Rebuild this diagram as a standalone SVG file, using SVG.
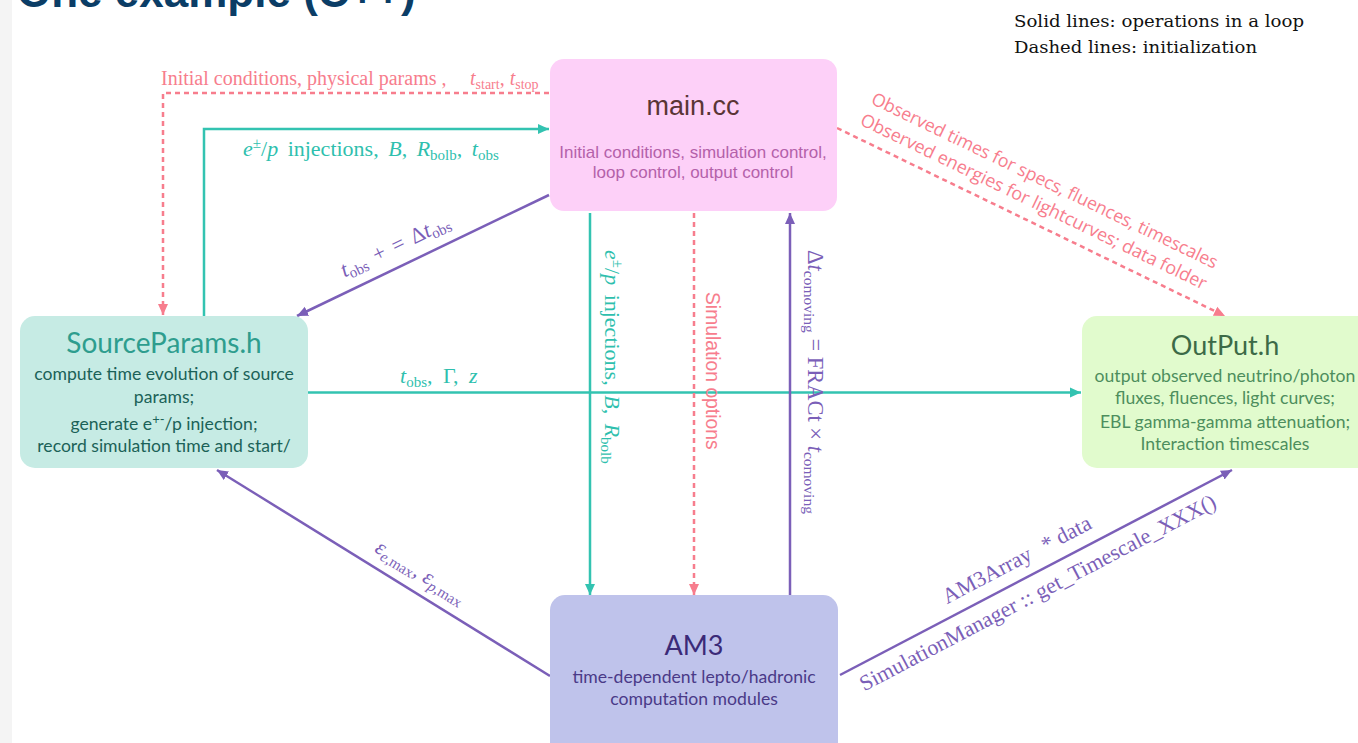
<svg xmlns="http://www.w3.org/2000/svg" width="1358" height="743" viewBox="0 0 1358 743">
<style>
.box{stroke:none}
.sans{font-family:"Liberation Sans",Arial,sans-serif}
.av{font-family:Lato,"Noto Sans",sans-serif}
.serif{font-family:"Liberation Serif","Times New Roman",serif}
.teal{stroke:#33c3b1;stroke-width:2.5;fill:none}
.purple{stroke:#7b5fb8;stroke-width:2.5;fill:none}
.pink{stroke:#f77d8d;stroke-width:2.5;fill:none;stroke-dasharray:5 4}
.tt{fill:#2fbfae}
.pt{fill:#7b5fb8}
.kt{fill:#f77d8d}
</style>
<defs>
<marker id="aT" markerUnits="userSpaceOnUse" markerWidth="12" markerHeight="12" refX="11" refY="6" orient="auto"><path d="M0,1 L11,6 L0,11 z" fill="#33c3b1"/></marker>
<marker id="aP" markerUnits="userSpaceOnUse" markerWidth="12" markerHeight="12" refX="11" refY="6" orient="auto"><path d="M0,1 L11,6 L0,11 z" fill="#7b5fb8"/></marker>
<marker id="aK" markerUnits="userSpaceOnUse" markerWidth="12" markerHeight="12" refX="11" refY="6" orient="auto"><path d="M0,1 L11,6 L0,11 z" fill="#f77d8d"/></marker>
</defs>
<rect x="0" y="0" width="1358" height="743" fill="#ffffff"/>
<rect x="0" y="0" width="12" height="743" fill="#f4f4f4"/>
<text x="17" y="7" class="sans" font-size="44" font-weight="bold" fill="#0b3d66">One example (C++)</text>
<g id="legend" font-family="'DejaVu Serif',serif" font-size="16.5" fill="#111">
<text x="1014" y="27" textLength="290" lengthAdjust="spacingAndGlyphs">Solid lines: operations in a loop</text>
<text x="1014" y="53" textLength="243" lengthAdjust="spacingAndGlyphs">Dashed lines: initialization</text>
</g>
<g id="connectors">
<path class="pink" d="M549,93 H163 V315" marker-end="url(#aK)"/>
<path class="teal" d="M204,316 V129 H549" marker-end="url(#aT)"/>
<path class="purple" d="M549,195 L297,316" marker-end="url(#aP)"/>
<path class="teal" d="M308,392.5 H1081" marker-end="url(#aT)"/>
<path class="teal" d="M590,213 V595" marker-end="url(#aT)"/>
<path class="pink" d="M694,213 V595" marker-end="url(#aK)"/>
<path class="purple" d="M790,595 V213" marker-end="url(#aP)"/>
<path class="pink" d="M837,128 L1225,316" marker-end="url(#aK)"/>
<path class="purple" d="M550,676 L217,470" marker-end="url(#aP)"/>
<path class="purple" d="M840,675 L1232,470" marker-end="url(#aP)"/>
<text class="serif kt" x="161" y="85" font-size="20">Initial conditions, physical params ,<tspan x="470" font-style="italic">t</tspan><tspan font-size="14" dy="4">start</tspan><tspan dy="-4">, </tspan><tspan font-style="italic">t</tspan><tspan font-size="14" dy="4">stop</tspan></text>
<text class="serif tt" x="243" y="156" font-size="22" word-spacing="4"><tspan font-style="italic">e</tspan><tspan font-size="15" dy="-8">±</tspan><tspan dy="8">/</tspan><tspan font-style="italic">p</tspan> injections, <tspan font-style="italic">B</tspan>, <tspan font-style="italic">R</tspan><tspan font-size="15" dy="4">bolb</tspan><tspan dy="-4">, </tspan><tspan font-style="italic">t</tspan><tspan font-size="15" dy="4">obs</tspan></text>
<text class="serif tt" x="400" y="383" font-size="22" word-spacing="5"><tspan font-style="italic">t</tspan><tspan font-size="15" dy="4">obs</tspan><tspan dy="-4">, Γ, </tspan><tspan font-style="italic">z</tspan></text>
<text class="serif pt" transform="translate(398,252) rotate(-25.5)" text-anchor="middle" font-size="22" word-spacing="3"><tspan font-style="italic">t</tspan><tspan font-size="15" dy="4">obs</tspan><tspan dy="-4"> + = Δ</tspan><tspan font-style="italic">t</tspan><tspan font-size="15" dy="4">obs</tspan></text>
<text class="serif tt" transform="translate(605,250) rotate(90)" font-size="22" word-spacing="4"><tspan font-style="italic">e</tspan><tspan font-size="15" dy="-8">±</tspan><tspan dy="8">/</tspan><tspan font-style="italic">p</tspan> injections, <tspan font-style="italic">B</tspan>, <tspan font-style="italic">R</tspan><tspan font-size="15" dy="4">bolb</tspan></text>
<text class="sans kt" transform="translate(706,292) rotate(90)" font-size="19.3">Simulation options</text>
<text class="serif pt" transform="translate(808,250) rotate(90)" font-size="22.5">Δ<tspan font-style="italic">t</tspan><tspan font-size="15.5" dy="4">comoving</tspan><tspan dy="-4"> = FRACt × </tspan><tspan font-style="italic">t</tspan><tspan font-size="15.5" dy="4">comoving</tspan></text>
<g font-family="'Open Sans','Noto Sans',sans-serif" font-size="18" fill="#f77d8d" text-anchor="middle">
<text transform="translate(1042,186) rotate(25.7)" textLength="382" lengthAdjust="spacingAndGlyphs">Observed times for specs, fluences, timescales</text>
<text transform="translate(1031,207) rotate(25.7)" textLength="382" lengthAdjust="spacingAndGlyphs">Observed energies for lightcurves; data folder</text>
</g>
<text class="serif pt" transform="translate(417,578) rotate(31.7)" text-anchor="middle" font-size="22"><tspan font-style="italic">ε</tspan><tspan font-size="15" dy="4"><tspan font-style="italic">e</tspan>,max</tspan><tspan dy="-4">,  </tspan><tspan font-style="italic">ε</tspan><tspan font-size="15" dy="4"><tspan font-style="italic">p</tspan>,max</tspan></text>
<text class="serif pt" transform="translate(1020,566) rotate(-27.6)" text-anchor="middle" font-size="22">AM3Array<tspan dx="14">* data</tspan></text>
<text class="serif pt" transform="translate(1041,599) rotate(-27.6)" text-anchor="middle" font-size="22">SimulationManager :: get_Timescale_XXX()</text>
</g>
<g id="main">
<rect class="box" x="550" y="59" width="287" height="152" rx="14" fill="#fdd0f8"/>
<text class="sans" x="693" y="115" text-anchor="middle" font-size="27" fill="#5a3535">main.cc</text>
<text class="sans" x="693" y="158" text-anchor="middle" font-size="17" fill="#b461aa">Initial conditions, simulation control,</text>
<text class="sans" x="693" y="178" text-anchor="middle" font-size="17" fill="#b461aa">loop control, output control</text>
</g>
<g id="sourceparams">
<rect class="box" x="20" y="316" width="288" height="152" rx="15" fill="#c6ebe4"/>
<text class="av" x="164" y="353" text-anchor="middle" font-size="28" fill="#2e9d8e">SourceParams.h</text>
<g class="av" text-anchor="middle" font-size="17.6" fill="#1b6258">
<text x="164" y="380">compute time evolution of source</text>
<text x="164" y="403">params;</text>
<text x="164" y="430">generate e<tspan font-size="13" dy="-6">+-</tspan><tspan dy="6">/p injection;</tspan></text>
<text x="164" y="452">record simulation time and start/</text>
</g>
</g>
<g id="output">
<rect class="box" x="1082" y="316" width="290" height="152" rx="15" fill="#e1fbcd"/>
<text class="av" x="1225" y="355" text-anchor="middle" font-size="27" fill="#3c6a47">OutPut.h</text>
<g class="av" text-anchor="middle" font-size="17.6" fill="#4d8e5d">
<text x="1225" y="382">output observed neutrino/photon</text>
<text x="1225" y="404">fluxes, fluences, light curves;</text>
<text x="1225" y="428">EBL gamma-gamma attenuation;</text>
<text x="1225" y="450">Interaction timescales</text>
</g>
</g>
<g id="am3">
<rect class="box" x="550" y="595" width="288" height="170" rx="15" fill="#bfc3eb"/>
<text class="av" x="694" y="655" text-anchor="middle" font-size="27" fill="#3b2a78">AM3</text>
<text class="av" x="694" y="683" text-anchor="middle" font-size="17.6" fill="#4a3a88">time-dependent lepto/hadronic</text>
<text class="av" x="694" y="705" text-anchor="middle" font-size="17.6" fill="#4a3a88">computation modules</text>
</g>
</svg>
